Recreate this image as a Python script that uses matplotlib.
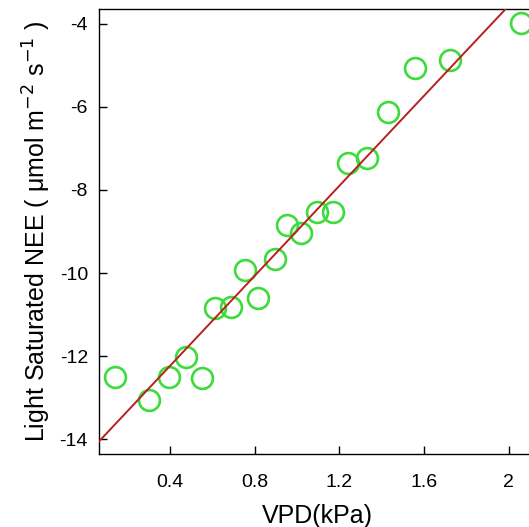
import matplotlib
matplotlib.use("Agg")
import matplotlib.pyplot as plt
import numpy as np

# VPD (kPa) and light saturated NEE
vpd = [0.14, 0.30, 0.395, 0.476, 0.55, 0.613, 0.691, 0.754, 0.817, 0.896,
       0.951, 1.019, 1.093, 1.171, 1.242, 1.332, 1.431, 1.557, 1.723, 2.061]
nee = [-12.51, -13.06, -12.50, -12.02, -12.54, -10.84, -10.81, -9.93, -10.61, -9.66,
       -8.84, -9.04, -8.54, -8.52, -7.35, -7.24, -6.11, -5.06, -4.86, -3.97]

xticks = [0.4, 0.8, 1.2, 1.6, 2.0]
xtick_labels = ["0.4", "0.8", "1.2", "1.6", "2"]
yticks = [-14, -12, -10, -8, -6, -4]

plt.rcParams["font.family"] = ["Liberation Sans", "DejaVu Sans"]
plt.rcParams["axes.unicode_minus"] = False

fig = plt.figure(figsize=(5.29, 5.27), dpi=100)
ax = fig.add_axes([99 / 529, 73 / 527, 436 / 529, 445 / 527])

x = np.array(vpd)
y = np.array(nee)
slope, intercept = np.polyfit(x, y, 1)
xx = np.array([0.0, 2.3])
ax.plot(xx, intercept + slope * xx, color="#b8201f", lw=1.4, zorder=3)

ax.plot(x, y, "o", ms=15, mfc="none", mec="#3ddc3a", mew=1.9, zorder=2)

ax.set_xlim(0.065, 2.125)
ax.set_ylim(-14.36, -3.64)
ax.set_xticks(xticks)
ax.set_xticklabels(xtick_labels)
ax.set_yticks(yticks)
ax.tick_params(direction="in", length=6, width=1, labelsize=14, top=False, right=False)
ax.tick_params(axis="y", pad=8)
ax.tick_params(axis="x", pad=14.5)
for s in ax.spines.values():
    s.set_linewidth(1.0)

ax.set_xlabel("VPD(kPa)", fontsize=18, labelpad=9)
ax.set_ylabel(r"Light Saturated NEE ( $\mathregular{\mu}$mol m$^{-2}$ s$^{-1}$ )", fontsize=18, labelpad=5)

fig.savefig("out.png", dpi=100)
